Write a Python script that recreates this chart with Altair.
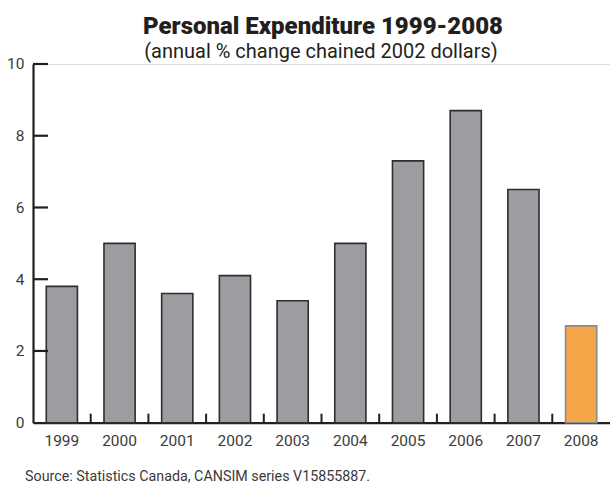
import altair as alt
import pandas as pd

years = ["1999", "2000", "2001", "2002", "2003", "2004", "2005", "2006", "2007", "2008"]
values = [3.8, 5.0, 3.6, 4.1, 3.4, 5.0, 7.3, 8.7, 6.5, 2.7]
fills = ["#9c9da1"] * 9 + ["#f8a64a"]
strokes = ["#2e2e2e"] * 9 + ["#8a8a8a"]
y_ticks = [2, 4, 6, 8, 10]
title_text = "Personal Expenditure 1999-2008"
subtitle_text = "(annual % change chained 2002 dollars)"
source_text = "Source:  Statistics Canada, CANSIM series V15855887."

W, H = 577, 358.7
INK = "#231f20"

df = pd.DataFrame({"year": years, "value": values, "fill": fills, "stroke": strokes})
tick_df = pd.DataFrame({"v": y_ticks})
bound_df = pd.DataFrame({"year": years[1:]})

yscale = alt.Scale(domain=[0, 10], nice=False)

bars = alt.Chart(df).mark_bar(strokeWidth=1.6).encode(
    x=alt.X("year:N", sort=years,
            scale=alt.Scale(paddingInner=0.46, paddingOuter=0.23),
            axis=alt.Axis(title=None, labelAngle=0, ticks=False, labelPadding=11,
                          labelFontSize=15.5, labelFont="Roboto", labelColor="#3c3c3c",
                          domainColor=INK, domainWidth=2.2, grid=False)),
    y=alt.Y("value:Q", scale=yscale,
            axis=alt.Axis(title=None, values=[0, 2, 4, 6, 8, 10], ticks=False, labelPadding=9,
                          labelFontSize=15.5, labelFont="Roboto", labelColor="#3c3c3c",
                          domainColor=INK, domainWidth=2.2, grid=False)),
    fill=alt.Fill("fill:N", scale=None),
    stroke=alt.Stroke("stroke:N", scale=None),
)

ytick_rules = alt.Chart(tick_df).mark_rule(color=INK, strokeWidth=2.2).encode(
    y=alt.Y("v:Q", scale=yscale),
    x=alt.value(0),
    x2=alt.value(15),
)

xtick_rules = alt.Chart(bound_df).mark_rule(color=INK, strokeWidth=2).encode(
    x=alt.X("year:N", sort=years, bandPosition=0,
            scale=alt.Scale(domain=years, paddingInner=0, paddingOuter=0), axis=None),
    y=alt.value(H),
    y2=alt.value(H - 9),
)

one = pd.DataFrame({"t": [title_text], "s": [subtitle_text], "src": [source_text]})

title = alt.Chart(one).mark_text(font="Roboto", fontWeight=900, fontSize=24,
                                 color=INK, align="center", baseline="alphabetic").encode(
    text="t:N", x=alt.value(290), y=alt.value(-30))
subtitle = alt.Chart(one).mark_text(font="Roboto", fontSize=20, color=INK,
                                    align="center", baseline="alphabetic").encode(
    text="s:N", x=alt.value(288), y=alt.value(-6))
source = alt.Chart(one).mark_text(font="Roboto", fontSize=14.3, color="#3a3a3a",
                                  align="left", baseline="alphabetic").encode(
    text="src:N", x=alt.value(-8), y=alt.value(417))

chart = alt.layer(bars, ytick_rules, xtick_rules, title, subtitle, source).resolve_scale(
    x="independent"
).properties(
    width=W, height=H,
    autosize=alt.AutoSizeParams(type="none"),
    padding={"left": 33, "top": 64, "right": 0, "bottom": 62},
).configure_view(stroke=None).configure(background="white")

chart.save("out.html", embed_options={"renderer": "svg", "actions": False})
